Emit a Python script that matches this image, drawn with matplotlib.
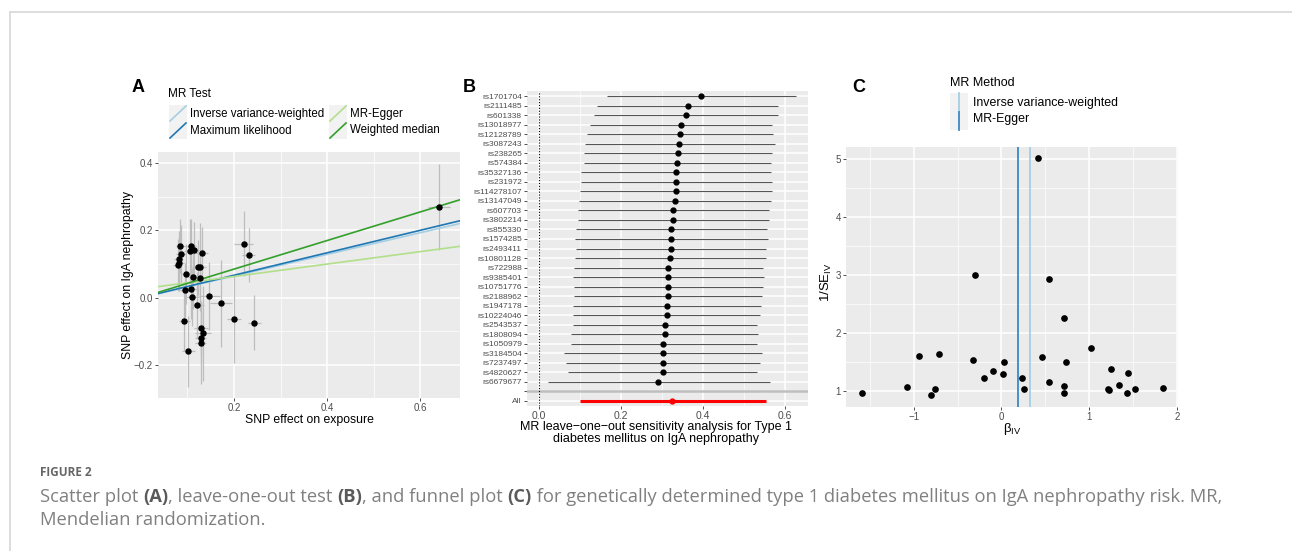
import matplotlib
matplotlib.use("Agg")
import matplotlib.pyplot as plt
from matplotlib.lines import Line2D
from matplotlib.patches import Rectangle
from matplotlib.text import Annotation
from matplotlib.ticker import MultipleLocator

plt.rcParams["font.family"] = ["Liberation Sans", "DejaVu Sans"]
plt.rcParams["mathtext.fontset"] = "custom"
plt.rcParams["mathtext.rm"] = "Liberation Sans"

W, H = 1292, 551

# ── A: SNP effects on exposure / outcome ─────────────────────────────
snp_bx = [0.640, 0.221, 0.232, 0.244, 0.200, 0.172, 0.147, 0.134, 0.129, 0.129,
          0.129, 0.102, 0.093, 0.094, 0.108, 0.111, 0.121, 0.113, 0.098, 0.127,
          0.122, 0.128, 0.131, 0.114, 0.105, 0.107, 0.085, 0.087, 0.081, 0.083, 0.079]
snp_by = [0.269, 0.161, 0.127, -0.074, -0.063, -0.017, 0.005, -0.106, -0.090, -0.120,
          -0.136, -0.159, -0.069, 0.023, 0.027, 0.003, -0.023, 0.063, 0.070, 0.059,
          0.090, 0.092, 0.134, 0.143, 0.139, 0.154, 0.154, 0.131, 0.114, 0.102, 0.096]
snp_se_x = [0.023, 0.020, 0.014, 0.014, 0.016, 0.023, 0.023, 0.017, 0.015, 0.012,
            0.012, 0.014, 0.012, 0.011, 0.012, 0.013, 0.014, 0.011, 0.011, 0.013,
            0.012, 0.013, 0.014, 0.012, 0.012, 0.011, 0.010, 0.011, 0.009, 0.010, 0.010]
snp_se_y = [0.127, 0.097, 0.079, 0.081, 0.130, 0.128, 0.100, 0.140, 0.079, 0.081,
            0.120, 0.105, 0.090, 0.080, 0.090, 0.086, 0.098, 0.098, 0.090, 0.080,
            0.081, 0.130, 0.075, 0.083, 0.095, 0.081, 0.081, 0.084, 0.083, 0.081, 0.077]

mr_methods = ["Inverse variance-weighted", "Maximum likelihood", "MR-Egger", "Weighted median"]
mr_slope = [0.322, 0.334, 0.185, 0.425]
mr_icept = [0.0, 0.0, 0.026, 0.0]
mr_colors = ["#A6CEE3", "#1F78B4", "#B2DF8A", "#33A02C"]

# ── B: leave-one-out ─────────────────────────────────────────────────
loo_snps = ["rs1701704", "rs2111485", "rs601338", "rs13018977", "rs12128789", "rs3087243",
            "rs238265", "rs574384", "rs35327136", "rs231972", "rs114278107", "rs13147049",
            "rs607703", "rs3802214", "rs855330", "rs1574285", "rs2493411", "rs10801128",
            "rs722988", "rs9385401", "rs10751776", "rs2188962", "rs1947178", "rs10224046",
            "rs2543537", "rs1808094", "rs1050979", "rs3184504", "rs7237497", "rs4820627",
            "rs6679677"]
loo_b = [0.396, 0.363, 0.359, 0.346, 0.344, 0.343, 0.339, 0.338, 0.335, 0.335, 0.334,
         0.332, 0.328, 0.328, 0.323, 0.322, 0.322, 0.321, 0.316, 0.316, 0.316, 0.316,
         0.313, 0.312, 0.307, 0.307, 0.304, 0.303, 0.303, 0.302, 0.291]
loo_lo = [0.166, 0.143, 0.134, 0.126, 0.119, 0.114, 0.111, 0.110, 0.104, 0.103, 0.101,
          0.099, 0.095, 0.095, 0.091, 0.089, 0.091, 0.089, 0.087, 0.084, 0.087, 0.087,
          0.085, 0.085, 0.084, 0.080, 0.080, 0.062, 0.067, 0.072, 0.022]
loo_hi = [0.626, 0.584, 0.584, 0.568, 0.570, 0.575, 0.568, 0.566, 0.567, 0.568, 0.568,
          0.566, 0.561, 0.561, 0.556, 0.558, 0.554, 0.553, 0.546, 0.548, 0.546, 0.544,
          0.542, 0.540, 0.532, 0.535, 0.531, 0.545, 0.539, 0.533, 0.563]
all_b, all_lo, all_hi = 0.326, 0.100, 0.554

# ── C: funnel ────────────────────────────────────────────────────────
funnel_beta = [0.411, -0.302, 0.540, 0.717, 1.023, -0.713, -0.943, 0.460, -0.321, 0.026,
               0.740, 1.245, -0.102, 1.442, 0.023, -0.200, 0.238, 0.540, 1.343, 0.717,
               -1.079, 1.834, 1.215, 1.521, 0.253, -0.758, 1.223, 0.717, -1.589, 1.434, -0.800]
funnel_inv_se = [5.02, 3.01, 2.93, 2.27, 1.74, 1.64, 1.60, 1.59, 1.54, 1.51,
                 1.50, 1.38, 1.34, 1.32, 1.29, 1.23, 1.23, 1.15, 1.10, 1.08,
                 1.07, 1.05, 1.04, 1.03, 1.03, 1.03, 1.02, 0.97, 0.97, 0.97, 0.94]
funnel_methods = ["Inverse variance-weighted", "MR-Egger"]
funnel_est = [0.322, 0.185]
funnel_colors = ["#A6CEE3", "#3D89C4"]

# ── caption ──────────────────────────────────────────────────────────
caption_head = "FIGURE 2"
caption_line1 = [("Scatter plot ", "normal"), ("(A)", "bold"), (", leave-one-out test ", "normal"),
                 ("(B)", "bold"), (", and funnel plot ", "normal"), ("(C)", "bold"),
                 (" for genetically determined type 1 diabetes mellitus on IgA nephropathy risk. MR,",
                  "normal")]
caption_line2 = "Mendelian randomization."

PANEL_BG = "#EBEBEB"
TICK_TXT = "#4D4D4D"


def box(l, t, r, b):
    return [l / W, 1 - b / H, (r - l) / W, (b - t) / H]


def fx(x):
    return x / W


def fy(y):
    return 1 - y / H


def gg_style(ax, labelsize=7):
    ax.set_facecolor(PANEL_BG)
    for s in ax.spines.values():
        s.set_visible(False)
    ax.set_axisbelow(True)
    ax.grid(which="major", color="white", lw=1.1)
    ax.grid(which="minor", color="white", lw=0.5)
    ax.tick_params(which="major", length=2.5, width=0.6, color="#333333",
                   labelcolor=TICK_TXT, labelsize=labelsize, pad=1.2)
    ax.tick_params(which="minor", length=0)


fig = plt.figure(figsize=(W / 100, H / 100), dpi=100)

# page frame
fig.add_artist(Line2D([fx(9.5), 1], [fy(12), fy(12)], color="#DADADA", lw=1.3))
fig.add_artist(Line2D([fx(9.5), fx(9.5)], [fy(12), 0], color="#DADADA", lw=1.3))

# ════════════ A: scatter ════════════
axA = fig.add_axes(box(158, 152, 460, 398))
gg_style(axA)
axA.tick_params(axis="x", pad=0.8)
axA.errorbar(snp_bx, snp_by, xerr=snp_se_x, yerr=snp_se_y, fmt="none",
             ecolor="#BDBDBD", elinewidth=0.9, capsize=0, zorder=2)
for m, b, col in zip(mr_slope, mr_icept, mr_colors):
    axA.axline((0, b), slope=m, color=col, lw=1.2, zorder=3)
axA.plot(snp_bx, snp_by, "o", color="black", ms=3.6, zorder=5)
axA.set_xlim(0.037, 0.685)
axA.set_ylim(-0.298, 0.433)
axA.xaxis.set_major_locator(MultipleLocator(0.2))
axA.xaxis.set_minor_locator(MultipleLocator(0.1))
axA.yaxis.set_major_locator(MultipleLocator(0.2))
axA.yaxis.set_minor_locator(MultipleLocator(0.1))
axA.set_xlabel("SNP effect on exposure", fontsize=8.8)
axA.set_ylabel("SNP effect on IgA nephropathy", fontsize=8.8)
axA.xaxis.set_label_coords(0.5, -0.064)
axA.yaxis.set_label_coords(-0.078, 0.5)

# legend A (ggplot style keys)
fig.text(fx(168), fy(94), "MR Test", fontsize=8.5, va="center")
key_pos = [(169, 105), (169, 122), (329, 105), (329, 122)]
for (kx, ky), name, col in zip(key_pos, mr_methods, mr_colors):
    fig.add_artist(Rectangle((fx(kx), fy(ky + 17)), 18 / W, 17 / H,
                             facecolor="#F2F2F2", edgecolor="none"))
    fig.add_artist(Line2D([fx(kx + 1), fx(kx + 17)], [fy(ky + 16), fy(ky + 1)],
                          color=col, lw=1.2))
    fig.text(fx(kx + 21), fy(ky + 8.5), name, fontsize=8.3, va="center")

# ════════════ B: leave-one-out ════════════
axB = fig.add_axes(box(527, 91, 808, 406))
gg_style(axB, labelsize=7.5)
rows = list(range(len(loo_snps)))
blank_row = len(loo_snps)
all_row = blank_row + 1
axB.axhline(blank_row, color="#BEBEBE", lw=1.8, zorder=1.5)
axB.axvline(0, color="black", lw=0.8, ls=(0, (1, 1.6)), zorder=2)
axB.hlines(rows, loo_lo, loo_hi, color="#555555", lw=0.8, zorder=3)
axB.plot(loo_b, rows, "o", color="black", ms=3.5, zorder=4)
axB.hlines([all_row], [all_lo], [all_hi], color="red", lw=2.2, zorder=3)
axB.plot([all_b], [all_row], "o", color="red", ms=3.5, zorder=4)
axB.set_xlim(-0.028, 0.656)
axB.set_ylim(all_row + 0.55, -0.55)
axB.set_yticks(rows + [blank_row, all_row])
axB.set_yticklabels(loo_snps + ["", "All"], fontsize=6)
axB.tick_params(axis="x", pad=1)
axB.xaxis.set_major_locator(MultipleLocator(0.2))
axB.xaxis.set_minor_locator(MultipleLocator(0.1))
axB.set_xlabel("MR leave\u2212one\u2212out sensitivity analysis for Type 1\n"
               "diabetes mellitus on IgA nephropathy", fontsize=9, linespacing=1.0)
axB.xaxis.set_label_coords(0.459, -0.047)

# ════════════ C: funnel ════════════
axC = fig.add_axes(box(846, 147, 1178, 407))
gg_style(axC)
for est, col in zip(funnel_est, funnel_colors):
    axC.axvline(est, color=col, lw=1.3, zorder=2)
axC.plot(funnel_beta, funnel_inv_se, "o", color="black", ms=3.8, zorder=4)
axC.set_xlim(-1.77, 2.01)
axC.set_ylim(0.726, 5.215)
axC.xaxis.set_major_locator(MultipleLocator(1))
axC.xaxis.set_minor_locator(MultipleLocator(0.5))
axC.yaxis.set_major_locator(MultipleLocator(1))
axC.yaxis.set_minor_locator(MultipleLocator(0.5))
axC.set_xlabel("β$_{\\mathrm{IV}}$", fontsize=9.5)
axC.set_ylabel("1/SE$_{\\mathrm{IV}}$", fontsize=9.5)
axC.xaxis.set_label_coords(0.5, -0.055)
axC.yaxis.set_label_coords(-0.037, 0.48)

# legend C
fig.text(fx(950), fy(83), "MR Method", fontsize=9, va="center")
for i, (name, col) in enumerate(zip(funnel_methods, funnel_colors)):
    ky = 93 + i * 18.5
    fig.add_artist(Rectangle((fx(950), fy(ky + 18.5)), 18 / W, 18.5 / H,
                             facecolor="#F2F2F2", edgecolor="none"))
    fig.add_artist(Line2D([fx(959), fx(959)], [fy(ky + 18.5), fy(ky)], color=col, lw=1.3))
    fig.text(fx(973), fy(ky + 10 - i * 2.5), name, fontsize=8.9, va="center")

# panel letters
for letter, x in zip("ABC", [138, 469, 859]):
    fig.text(fx(x), fy(87), letter, fontsize=13, fontweight="bold", ha="center", va="center")

# ════════════ caption ════════════
cap_font = ["Open Sans", "DejaVu Sans"]
cap_size = 13.2
cap_grey = "#808080"
fig.text(fx(40), fy(473), caption_head, fontsize=8.5, fontweight="bold",
         color="#666666", family=cap_font, va="center")

prev = fig.text(fx(40), fy(497), caption_line1[0][0], fontsize=cap_size, color=cap_grey,
                family=cap_font, va="center")
for txt, wt in caption_line1[1:]:
    # each piece starts at the bottom-right corner of the previous one
    prev = fig.add_artist(Annotation(
        txt, xy=(1, 0), xycoords=prev, ha="left", va="bottom",
        fontsize=cap_size, fontweight=wt, family=cap_font,
        color="#5A5A5A" if wt == "bold" else cap_grey, annotation_clip=False))
fig.text(fx(40), fy(520), caption_line2, fontsize=cap_size, color=cap_grey,
         family=cap_font, va="center")

fig.savefig("out.png", dpi=100)
